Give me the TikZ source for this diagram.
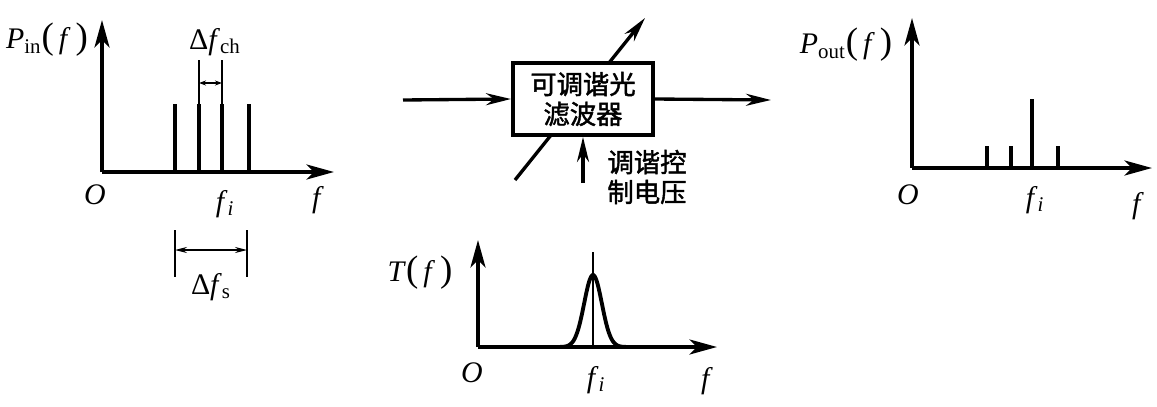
\documentclass[tikz,border=0pt]{standalone}
\usepackage{fontspec}
\setmainfont{Liberation Serif}
\newfontfamily\cjk{Noto Sans CJK SC}[FakeBold=1.6]
\usetikzlibrary{arrows.meta, positioning}

\begin{document}
\begin{tikzpicture}[
        % one unit = one pixel of the layout, y runs downwards
        x=0.02cm, y=-0.02cm,
        % Define styles for the drawing
        axis/.style={line width=2.2pt, -{Stealth[length=5.5mm, width=3mm, inset=1.5mm]}},
        signal/.style={line width=1.9pt, -{Stealth[length=5mm, width=2.4mm, inset=1.6mm]}},
        spec_line/.style={line width=2pt},
        thin_line/.style={line width=0.8pt},
        dim_arrow/.style={line width=0.6pt, {Stealth[length=2.4mm, width=1.2mm]}-{Stealth[length=2.4mm, width=1.2mm]}},
        small_arrow/.style={line width=0.6pt, {Stealth[length=1.4mm, width=1mm]}-{Stealth[length=1.4mm, width=1mm]}},
        lbl/.style={font=\fontsize{17}{19}\selectfont, inner sep=1pt},
        filter_box/.style={draw, line width=2.3pt, fill=white, minimum width=2.8cm, minimum height=1.44cm,
            align=center, inner sep=2pt, font=\cjk\fontsize{15}{17}\selectfont},
        cjk_lbl/.style={align=center, inner sep=1pt, font=\cjk\fontsize{15}{17}\selectfont}
    ]
    \useasboundingbox (0,0) rectangle (1157,406);

    % Input spectrum
    \coordinate (in_o) at (102,172);
    \coordinate (in_top) at (102,20);
    \coordinate (in_end) at (334,172);
    \draw [axis] (in_o) -- (in_top);
    \draw [axis] (in_o) -- (in_end);
    \foreach \xc in {175,199,222,249}
        \draw [spec_line] (\xc,172) -- (\xc,104);
    \coordinate (ch_a) at (199,60);
    \coordinate (ch_b) at (222,60);
    \draw [thin_line] (ch_a) -- (199,104);
    \draw [thin_line] (ch_b) -- (222,104);
    \draw [small_arrow] (199,83) -- (222,83);
    \node (lbl_ch) [lbl] at (215,42) {Δ\textit{f}\textsubscript{ch}};
    \node (lbl_pin) [lbl] at (47,40) {\textit{P}\textsubscript{in}{\fontsize{21}{21}\selectfont(}\,\textit{f}\,{\fontsize{21}{21}\selectfont)}};
    \node (lbl_o1) [lbl] at (95,195) {\textit{O}};
    \node (lbl_fi1) [lbl] at (225,204) {\textit{f}\textsubscript{\textit{i}}};
    \node (lbl_f1) [lbl] at (318,200) {\textit{f}};
    % Span of the channels
    \coordinate (s_a) at (175,230);
    \coordinate (s_b) at (247,230);
    \draw [thin_line] (s_a) -- (175,277);
    \draw [thin_line] (s_b) -- (247,277);
    \draw [dim_arrow] (175,250) -- (247,250);
    \node (lbl_s) [lbl] at (211,287) {Δ\textit{f}\textsubscript{s}};

    % Tunable filter block
    \coordinate (diag_start) at (515,180);
    \coordinate (diag_end) at (645,18);
    \draw [signal] (diag_start) -- (diag_end);
    \node (filter) [filter_box] at (583,99) {可调谐光\\滤波器};
    \coordinate (in_start) at (403,100);
    \coordinate (out_end) at (771,100);
    \draw [signal] (in_start) -- (filter.west);
    \draw [signal] (filter.east) -- (out_end);
    \coordinate (ctrl_start) at (583,183);
    \draw [signal] (ctrl_start) -- (filter.south -| ctrl_start);
    \node (ctrl) [cjk_lbl] at (647,177) {调谐控\\制电压};

    % Output spectrum
    \coordinate (out_o) at (912,168);
    \coordinate (out_top) at (912,18);
    \coordinate (out_x) at (1152,168);
    \draw [axis] (out_o) -- (out_top);
    \draw [axis] (out_o) -- (out_x);
    \foreach \xc in {987,1011,1058}
        \draw [spec_line] (\xc,168) -- (\xc,146);
    \draw [spec_line] (1032,168) -- (1032,99);
    \node (lbl_pout) [lbl] at (846,45) {\textit{P}\textsubscript{out}{\fontsize{21}{21}\selectfont(}\,\textit{f}\,{\fontsize{21}{21}\selectfont)}};
    \node (lbl_o3) [lbl] at (908,195) {\textit{O}};
    \node (lbl_fi3) [lbl] at (1035,200) {\textit{f}\textsubscript{\textit{i}}};
    \node (lbl_f3) [lbl] at (1138,206) {\textit{f}};

    % Filter transmission
    \coordinate (t_o) at (478,347);
    \coordinate (t_top) at (478,240);
    \coordinate (t_end) at (717,347);
    \draw [axis] (t_o) -- (t_top);
    \draw [axis] (t_o) -- (t_end);
    \draw [line width=2.2pt, smooth] plot[domain=553:633, samples=60] (\x, {347-72*exp(-((\x-593)/12.5)^2)});
    \coordinate (peak_top) at (593,252);
    \draw [thin_line] (peak_top) -- (593,347);
    \node (lbl_t) [lbl] at (420,273) {\textit{T}{\fontsize{21}{21}\selectfont(}\,\textit{f}\,{\fontsize{21}{21}\selectfont)}};
    \node (lbl_o2) [lbl] at (472,373) {\textit{O}};
    \node (lbl_fi2) [lbl] at (596,380) {\textit{f}\textsubscript{\textit{i}}};
    \node (lbl_f2) [lbl] at (707,381) {\textit{f}};

\end{tikzpicture}
\end{document}
